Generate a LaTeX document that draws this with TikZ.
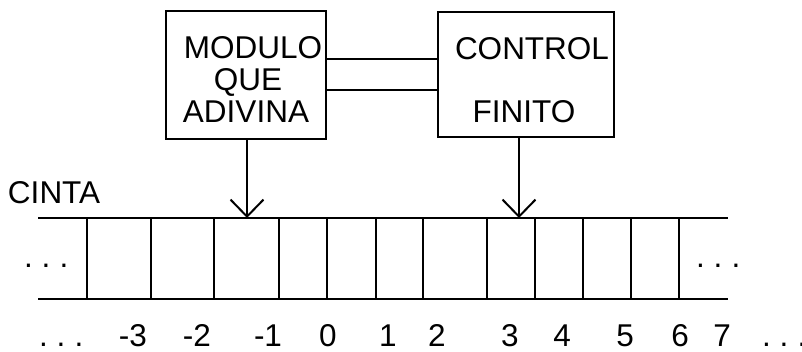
\documentclass[tikz,border=0pt]{standalone}
\usepackage{fontspec}
\setmainfont{Liberation Sans}
\usetikzlibrary{arrows.meta}
\begin{document}
\begin{tikzpicture}[x=1pt,y=-1pt,
  line width=2pt,
  box/.style={draw, line width=2pt, inner sep=0pt},
  txt/.style={inner sep=0pt, anchor=base, font=\fontsize{31.5}{33}\selectfont},
  txtw/.style={inner sep=0pt, anchor=base west, font=\fontsize{31.5}{33}\selectfont},
  ptr/.style={-{Straight Barb[length=17pt,width=33pt,line width=2pt]}, line width=2pt},
  tapeline/.style={line width=2pt}]
\useasboundingbox (0,0) rectangle (802,351);
% boxes
\node[box, minimum width=160pt, minimum height=128pt] (mod) at (246,75) {};
\node[box, minimum width=176pt, minimum height=125pt] (ctl) at (526,74.5) {};
\node[txt] (t1) at (253,58) {MODULO};
\node[txt] (t2) at (248,90) {QUE};
\node[txt] (t3) at (246,122) {ADIVINA};
\node[txt] (t4) at (532,59) {CONTROL};
\node[txt] (t5) at (524,122) {FINITO};
% connecting lines
\draw (mod.east |- 0,59) -- (ctl.west |- 0,59);
\draw (mod.east |- 0,90) -- (ctl.west |- 0,90);
% tape
\coordinate (tl) at (38,218);
\coordinate (tr) at (728,218);
\coordinate (bl) at (38,299);
\coordinate (br) at (728,299);
\draw[tapeline] (tl) -- (tr);
\draw[tapeline] (bl) -- (br);
\foreach \x in {87,151,214,279,327,376,423,487,535,583,631,679}
  \draw[tapeline] (\x,218) -- (\x,299);
% arrows
\coordinate (a1) at (247,218);
\coordinate (a2) at (519,218);
\draw[ptr] (mod.south -| a1) -- (a1);
\draw[ptr] (ctl.south -| a2) -- (a2);
% labels
\node[txtw] (cinta) at (7,203) {CINTA};
\node[txtw] (dl) at (23,267) {.\hspace{9pt}.\hspace{9pt}.};
\node[txtw] (dr) at (695,267) {.\hspace{9pt}.\hspace{9pt}.};
\node[txtw] (bdl) at (38,346) {.\hspace{9pt}.\hspace{9pt}.};
\node[txtw] (bdr) at (761,346) {.\hspace{9pt}.\hspace{9pt}.};
\node[txt] (n1) at (133,346) {-3};
\node[txt] (n2) at (197,346) {-2};
\node[txt] (n3) at (268,346) {-1};
\node[txt] (n4) at (328,346) {0};
\node[txt] (n5) at (388,346) {1};
\node[txt] (n6) at (437,346) {2};
\node[txt] (n7) at (510,346) {3};
\node[txt] (n8) at (562,346) {4};
\node[txt] (n9) at (625,346) {5};
\node[txt] (n10) at (680,346) {6};
\node[txt] (n11) at (722,346) {7};
\end{tikzpicture}
\end{document}
